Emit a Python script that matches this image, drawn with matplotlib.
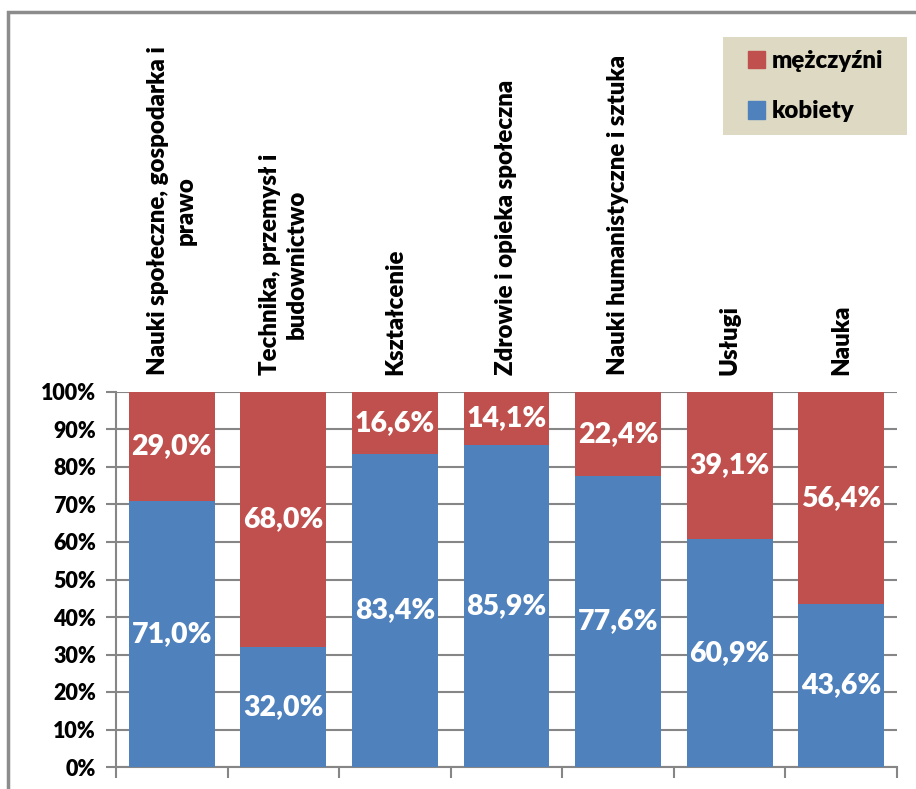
import matplotlib
matplotlib.use("Agg")
import matplotlib.pyplot as plt
from matplotlib.patches import Rectangle, Patch
from matplotlib.ticker import FixedLocator, PercentFormatter

categories = ["Nauki społeczne, gospodarka i\nprawo",
              "Technika, przemysł i\nbudownictwo",
              "Kształcenie",
              "Zdrowie i opieka społeczna",
              "Nauki humanistyczne i sztuka",
              "Usługi",
              "Nauka"]
kobiety = [71.0, 32.0, 83.4, 85.9, 77.6, 60.9, 43.6]
mezczyzni = [29.0, 68.0, 16.6, 14.1, 22.4, 39.1, 56.4]
series_names = ["kobiety", "mężczyźni"]
yticks = [0, 10, 20, 30, 40, 50, 60, 70, 80, 90, 100]

BLUE = "#4F81BD"
RED = "#C0504D"
GRID = "#868686"
FONT = ["Lato", "DejaVu Sans"]
WEIGHT = "heavy"

W, H = 916, 789
fig = plt.figure(figsize=(W / 100, H / 100), dpi=100)
ax = fig.add_axes([116 / W, 1 - 767 / H, (897 - 116) / W, (767 - 392) / H])

x = list(range(len(categories)))
bw = 0.77
ax.bar(x, kobiety, width=bw, color=BLUE, zorder=3, label=series_names[0])
ax.bar(x, mezczyzni, width=bw, bottom=kobiety, color=RED, zorder=3, label=series_names[1])

for i in x:
    ax.text(i, kobiety[i] / 2, f"{kobiety[i]:.1f}%".replace(".", ","), ha="center", va="center",
            color="white", fontsize=20.5, fontweight=WEIGHT, family=FONT, zorder=4)
    ax.text(i, kobiety[i] + mezczyzni[i] / 2, f"{mezczyzni[i]:.1f}%".replace(".", ","), ha="center",
            va="center", color="white", fontsize=20.5, fontweight=WEIGHT, family=FONT, zorder=4)
    ax.text(i, 104.5, categories[i], rotation=90, ha="center", va="bottom", multialignment="center",
            fontsize=17.3, fontweight=WEIGHT, family=FONT, clip_on=False, linespacing=1.3)

ax.set_xlim(-0.5, len(categories) - 0.5)
ax.set_ylim(0, 100)
ax.set_yticks(yticks)
ax.yaxis.set_major_formatter(PercentFormatter(decimals=0))
ax.yaxis.grid(True, color=GRID, lw=1.5, zorder=0)
ax.set_xticks([])
ax.xaxis.set_minor_locator(FixedLocator([i - 0.5 for i in range(len(categories) + 1)]))
ax.tick_params(axis="x", which="minor", length=8, width=1.5, color=GRID, direction="out")
ax.tick_params(axis="y", length=7, width=1.5, color=GRID, labelsize=15.5, pad=7.5)
for lab in ax.get_yticklabels():
    lab.set_fontweight(WEIGHT)
    lab.set_family(FONT)
for s in ["top", "right"]:
    ax.spines[s].set_visible(False)
for s in ["left", "bottom"]:
    ax.spines[s].set_color(GRID)
    ax.spines[s].set_linewidth(1.5)

# outer chart border
fig.patches.append(Rectangle((8 / W, -0.1), 1.2, 1 - 12 / H + 0.1, transform=fig.transFigure,
                             fill=False, edgecolor="#8C8C8C", lw=2.5, zorder=0))

# legend background box
fig.patches.append(Rectangle((723 / W, 1 - 135 / H), (907 - 723) / W, (135 - 37) / H,
                             transform=fig.transFigure, facecolor="#DDD9C3", edgecolor="none",
                             zorder=1))

handles = [Patch(color=RED), Patch(color=BLUE)]
leg = fig.legend(handles, [series_names[1], series_names[0]], loc="center left",
                 bbox_to_anchor=(748 / W, 1 - 86 / H), frameon=False,
                 prop={"family": FONT, "weight": WEIGHT, "size": 17.3},
                 handlelength=0.72, handleheight=0.72, handletextpad=0.25,
                 borderpad=0, labelspacing=1.2, borderaxespad=0)
leg.set_zorder(2)

fig.savefig("out.png", dpi=100)
